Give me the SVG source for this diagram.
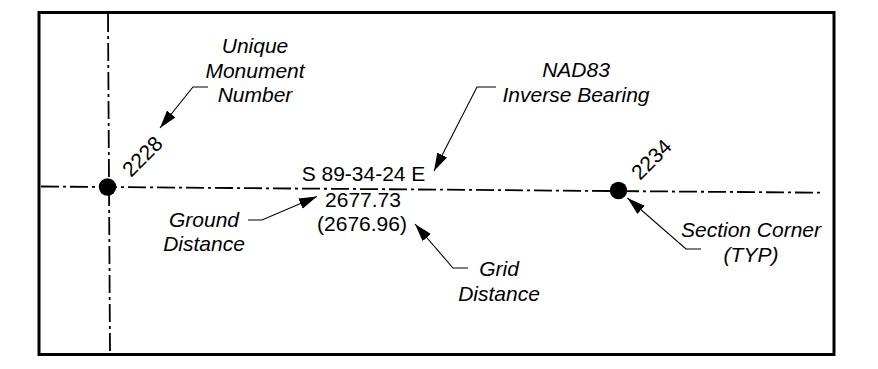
<svg xmlns="http://www.w3.org/2000/svg" width="878" height="369" viewBox="0 0 878 369">
<defs>
<style>
text{font-family:"Liberation Sans",Arial,sans-serif;font-size:21px;fill:#000}
.it{font-style:italic;text-anchor:middle}
.c{text-anchor:middle}
.ctr{fill:none;stroke:#000;stroke-width:1.8;stroke-dasharray:18 4 3 4}
.ldr{fill:none;stroke:#000;stroke-width:1.1;marker-end:url(#ah)}
</style>
<marker id="ah" markerUnits="userSpaceOnUse" markerWidth="20" markerHeight="12" refX="18" refY="5.5" orient="auto">
<path d="M0,0 L18,5.5 L0,11 z" fill="#000"/>
</marker>
</defs>
<rect x="39" y="12.5" width="795" height="342" fill="#fff" stroke="#000" stroke-width="3"/>
<g id="centerlines">
<line class="ctr" x1="108" y1="14" x2="110" y2="353"/>
<line class="ctr" x1="41" y1="186.5" x2="823" y2="192.7"/>
</g>
<g id="corner-2228">
<circle cx="107.5" cy="187" r="8.7" fill="#000"/>
<text transform="translate(131,178) rotate(-45)">2228</text>
</g>
<g id="corner-2234">
<circle cx="618.5" cy="190.5" r="8.7" fill="#000"/>
<text transform="translate(640,181) rotate(-45)">2234</text>
</g>
<g id="bearing">
<text class="c" x="363.5" y="181">S 89-34-24 E</text>
<text class="c" x="363" y="206.5">2677.73</text>
<text class="c" x="362" y="230.5">(2676.96)</text>
</g>
<g id="label-unique">
<text class="it" x="255" y="53">Unique</text>
<text class="it" x="255" y="77.5">Monument</text>
<text class="it" x="255" y="102">Number</text>
</g>
<g id="label-nad83">
<text class="it" x="576" y="77">NAD83</text>
<text class="it" x="576" y="101.5">Inverse Bearing</text>
</g>
<g id="label-ground">
<text class="it" x="204" y="226.5">Ground</text>
<text class="it" x="204" y="251">Distance</text>
</g>
<g id="label-grid">
<text class="it" x="499" y="276">Grid</text>
<text class="it" x="499" y="300.5">Distance</text>
</g>
<g id="label-section">
<text class="it" x="751" y="237">Section Corner</text>
<text class="it" x="751" y="261.5">(TYP)</text>
</g>
<g id="connectors">
<polyline class="ldr" points="208,87 193,87 160,128"/>
<polyline class="ldr" points="496,87 477,87 434,171"/>
<polyline class="ldr" points="248,220 262,220 317,196.5"/>
<polyline class="ldr" points="468,268 453,268 415,224"/>
<polyline class="ldr" points="701,249 686,249 627.5,198"/>
</g>
</svg>
